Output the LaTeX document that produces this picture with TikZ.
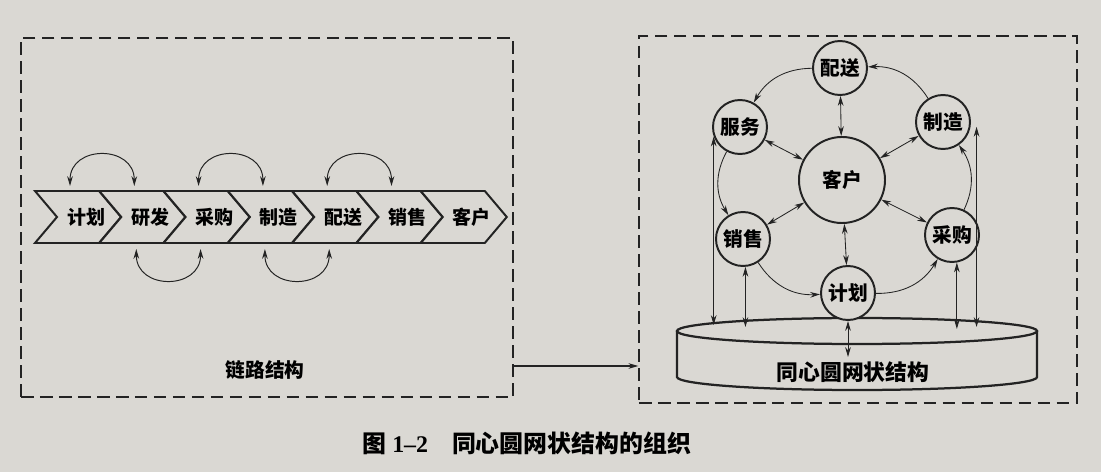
\documentclass[tikz,border=0pt]{standalone}
\usepackage{fontspec}
\setmainfont{Liberation Serif}
\newfontfamily\cjk{Noto Sans CJK SC}
\usetikzlibrary{arrows.meta}
\definecolor{paper}{RGB}{218,216,211}
\definecolor{ink}{RGB}{35,35,35}

\begin{document}
\begin{tikzpicture}[
    x=0.025cm, y=-0.025cm,
    thick,
    font=\cjk\bfseries\fontsize{14pt}{16pt}\selectfont,
    >={Stealth[length=7pt,width=4pt]}
]
\tikzset{
    dashbox/.style = {draw=ink, line width=0.9pt, dash pattern=on 9pt off 4.5pt, inner sep=0pt},
    chevron/.style = {draw=ink, line width=1.4pt, fill=paper, line join=miter},
    ringnode/.style = {circle, draw=ink, line width=1.4pt, fill=paper, minimum size=1.35cm, inner sep=0pt},
    hubnode/.style = {ringnode, minimum size=2.15cm},
    cylline/.style = {draw=ink, line width=1.6pt},
    edgen/.style = {->, draw=ink, line width=0.6pt},
    edgeb/.style = {<->, draw=ink, line width=0.6pt},
    swapedge/.style = {<->, draw=ink, line width=0.7pt},
    uparc/.style = {out=90, in=90, looseness=1.65},
    downarc/.style = {out=-90, in=-90, looseness=1.65}
}
\path[fill=paper, use as bounding box] (0,0) rectangle (1101,472);

% the two frames
\node[dashbox, minimum width=12.3cm, minimum height=8.975cm] at (267,217.5) (linkbox) {};
\node[dashbox, minimum width=10.95cm, minimum height=9.175cm] at (858,219.5) (ringbox) {};
\draw[edgen, line width=0.8pt] (linkbox.east |- 0,366) -- (ringbox.west |- 0,366);

% chain of steps
\foreach \lbl [count=\i from 0] in {计划,研发,采购,制造,配送,销售,客户} {
    \pgfmathsetmacro\xo{35+64.3*\i}
    \draw[chevron] (\xo,191) -- ++(64,0) -- ++(22,26) -- ++(-22,26) -- ++(-64,0) -- ++(22,-26) -- cycle;
    \node[font=\cjk\bfseries\fontsize{13.5pt}{15pt}\selectfont] at (\xo+51,217) (link\i) {\lbl};
    \coordinate (up\i) at (\xo+35,186);
    \coordinate (dn\i) at (\xo+37,249);
}
\draw[swapedge] (up0) to[uparc] (up1);
\draw[swapedge] (up2) to[uparc] (up3);
\draw[swapedge] (up4) to[uparc] (up5);
\draw[swapedge] (dn1) to[downarc] (dn2);
\draw[swapedge] (dn3) to[downarc] (dn4);
\node at (265,370) (linklabel) {链路结构};

% base cylinder
\draw[cylline] (677,331) -- (677,377) arc[start angle=180, end angle=360, x radius=4.5cm, y radius=0.325cm] -- (1037,331);
\draw[cylline] (857,331) ellipse[x radius=4.5cm, y radius=0.325cm];
\node[font=\cjk\bfseries\fontsize{15.5pt}{17pt}\selectfont] at (853,372) (baselabel) {同心圆网状结构};

% ring of partners
\node[ringnode] at (840,68) (peisong) {配送};
\node[ringnode] at (740,127) (fuwu) {服务};
\node[ringnode] at (943,122) (zhizao) {制造};
\node[hubnode] at (842,180) (kehu) {客户};
\node[ringnode] at (743,239) (xiaoshou) {销售};
\node[ringnode] at (952,235) (caigou) {采购};
\node[ringnode] at (848,293) (jihua) {计划};

\draw[edgen] (peisong) to[bend right=30] (fuwu);
\draw[edgen] (fuwu) to[bend right=30] (xiaoshou);
\draw[edgen] (xiaoshou) to[bend right=30] (jihua);
\draw[edgen] (jihua) to[bend right=30] (caigou);
\draw[edgen] (caigou) to[bend right=30] (zhizao);
\draw[edgen] (zhizao) to[bend right=30] (peisong);
\foreach \n in {peisong,fuwu,zhizao,xiaoshou,caigou,jihua}
    \draw[edgeb] (kehu) -- (\n);

% links down to the base
\coordinate (fuwutop) at (fuwu.-160);
\coordinate (xiaoshoutop) at (xiaoshou.-85);
\coordinate (caigoutop) at (caigou.-80);
\coordinate (zhizaotop) at ([xshift=0.15cm]zhizao.-10);
\draw[edgeb] (fuwutop) -- (fuwutop |- 0,325);
\draw[edgeb] (xiaoshoutop) -- (xiaoshoutop |- 0,327);
\draw[edgeb] (caigoutop) -- (caigoutop |- 0,329);
\draw[edgeb] (zhizaotop) -- (zhizaotop |- 0,327);
\draw[edgeb] (jihua.south) -- (jihua.south |- 0,357);

\node[font=\cjk\bfseries\fontsize{17pt}{19pt}\selectfont] at (527,443) (caption) {图 {\rmfamily\bfseries 1–2}\hspace{1em}同心圆网状结构的组织};
\end{tikzpicture}
\end{document}
